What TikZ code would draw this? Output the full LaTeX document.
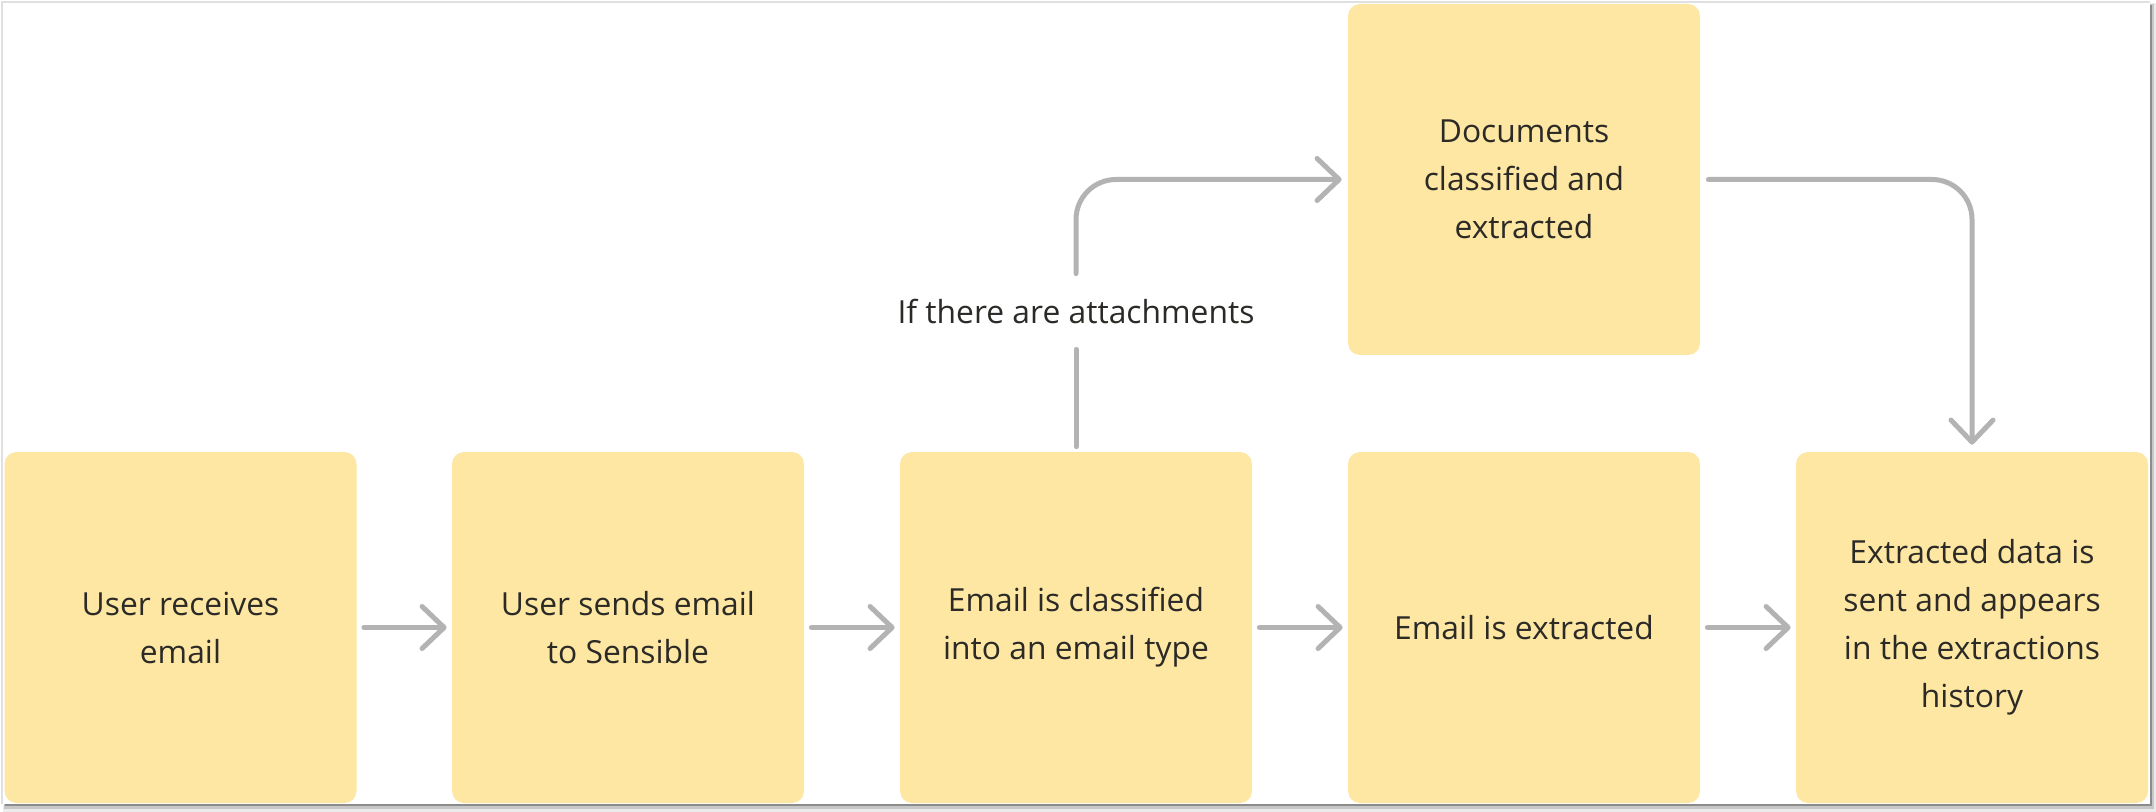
\documentclass[tikz,border=0pt]{standalone}
\usepackage{fontspec}
\setmainfont{Open Sans}
\usetikzlibrary{arrows.meta}
\definecolor{boxfill}{HTML}{FEE7A3}
\definecolor{arrowgray}{HTML}{B3B3B3}
\definecolor{txt}{HTML}{2B2A26}
\begin{document}
\begin{tikzpicture}[x=0.5pt,y=-0.5pt,
  box/.style={fill=boxfill, rounded corners=6pt, minimum width=176pt, minimum height=175.5pt,
    inner sep=0pt, align=center, text=txt, font=\fontsize{15.9pt}{24pt}\selectfont},
  lbl/.style={text=txt, font=\fontsize{15.9pt}{24pt}\selectfont, inner sep=0pt, minimum height=37.5pt},
  conn/.style={draw=arrowgray, line width=2.5pt, line cap=round, line join=round},
  arr/.style={conn, -{Straight Barb[length=11pt,width=21pt,round]}}]
\useasboundingbox (0,0) rectangle (2156,812);
% window frame with shadow
\fill[black!8] (3,3) rectangle (2156,812);
\fill[black!22] (4,4) rectangle (2154,809);
\fill[black!45] (5,5) rectangle (2152,806);
\fill[white] (3,3) rectangle (2150,804);
\draw[black!12, line width=1pt] (2,804) -- (2,2) -- (2150,2);
% boxes
\node[box] (b1) at (180.5,627.5) {User receives\\email};
\node[box] (b2) at (628,627.5) {User sends email\\to Sensible};
\node[box] (b3) at (1076,627.5) {Email is classified\\into an email type};
\node[box] (b4) at (1524,627.5) {Email is extracted};
\node[box] (b5) at (1972,627.5) {Extracted data is\\sent and appears\\in the extractions\\history};
\node[box] (top) at (1524,179.5) {Documents\\classified and\\extracted};
\node[lbl] (lab) at (1076,311.5) {If there are attachments};
% connectors
\draw[arr] ([xshift=3.5pt]b1.east) -- ([xshift=-2.5pt]b2.west);
\draw[arr] ([xshift=3.5pt]b2.east) -- ([xshift=-2.5pt]b3.west);
\draw[arr] ([xshift=3.5pt]b3.east) -- ([xshift=-2.5pt]b4.west);
\draw[arr] ([xshift=3.5pt]b4.east) -- ([xshift=-2.5pt]b5.west);
\draw[conn] ([yshift=2.5pt]b3.north) -- (lab.south);
\draw[arr, rounded corners=20pt] (lab.north) |- ([xshift=-3pt]top.west);
\draw[arr, rounded corners=20pt] ([xshift=4pt]top.east) -| ([yshift=3.5pt]b5.north);
\end{tikzpicture}
\end{document}
